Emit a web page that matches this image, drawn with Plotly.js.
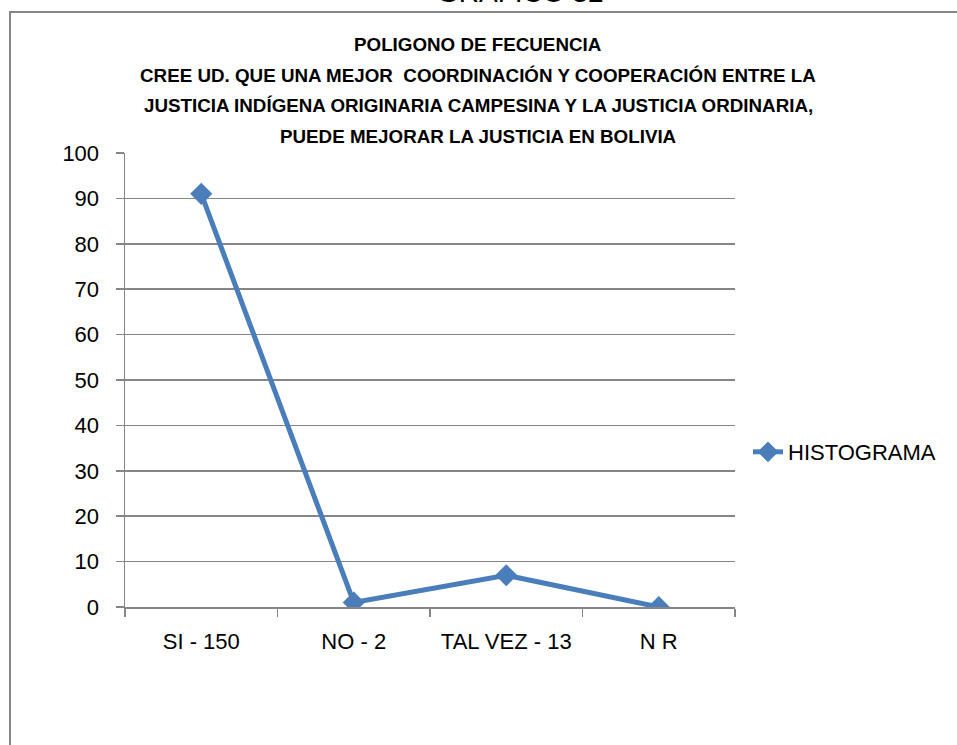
<!DOCTYPE html>
<html>
<head>
<meta charset="utf-8">
<script src="https://cdn.plot.ly/plotly-3.0.1.min.js"></script>
<style>html,body{margin:0;padding:0;background:#fff;}#chart{width:957px;height:745px;}</style>
</head>
<body>
<div id="chart"></div>
<script>
const categories = ["SI - 150", "NO - 2", "TAL VEZ - 13", "N R"];
const values = [91, 1, 7, 0];
const seriesName = "HISTOGRAMA";
const yTicks = [0, 10, 20, 30, 40, 50, 60, 70, 80, 90, 100];
const titleLines = [
  "POLIGONO DE FECUENCIA",
  "CREE UD. QUE UNA MEJOR  COORDINACIÓN Y COOPERACIÓN ENTRE LA",
  "JUSTICIA INDÍGENA ORIGINARIA CAMPESINA Y LA JUSTICIA ORDINARIA,",
  "PUEDE MEJORAR LA JUSTICIA EN BOLIVIA"
];
const topTitle = "GRAFICO 32";

const W = 957, H = 745;
const L = 125, R = 222, T = 153, B = 138;
const pw = W - L - R, ph = H - T - B;
function px(x) { return (x - L) / pw; }
function py(y) { return (H - B - y) / ph; }

const FONT = "Liberation Sans, Arial, sans-serif";
const lineColor = "#4a7ebb";
const grid = "#868686";

const titleY = [45, 75, 106, 137];
const annotations = titleLines.map((t, i) => ({
  text: "<b>" + t + "</b>", xref: "paper", yref: "paper",
  x: px(478), y: py(titleY[i]), xanchor: "center", yanchor: "middle",
  showarrow: false, font: {family: FONT, size: 18.8, color: "#000"}
}));
annotations.push({
  text: topTitle, xref: "paper", yref: "paper",
  x: px(520), y: py(-8), xanchor: "center", yanchor: "middle",
  showarrow: false, font: {family: FONT, size: 28, color: "#000"}
});

const trace = {
  x: categories, y: values, name: seriesName, type: "scatter", mode: "lines+markers",
  line: {color: lineColor, width: 5},
  marker: {symbol: "diamond", size: 17, color: lineColor},
  showlegend: true
};

const layout = {
  width: W, height: H,
  margin: {l: L, r: R, t: T, b: B},
  paper_bgcolor: "#fff", plot_bgcolor: "#fff",
  font: {family: FONT, size: 22, color: "#000"},
  showlegend: true,
  legend: {x: px(748), y: py(452), xanchor: "left", yanchor: "middle",
           font: {family: FONT, size: 22, color: "#000"}, bgcolor: "rgba(0,0,0,0)"},
  xaxis: {type: "category", range: [-0.5, 3.5], showgrid: false, showline: true,
          linecolor: grid, linewidth: 1.5, ticks: "outside", ticklen: 8, tickcolor: grid,
          tickwidth: 1.5, tickson: "boundaries", zeroline: false, fixedrange: true,
          ticklabelstandoff: 14,
          tickfont: {family: FONT, size: 22, color: "#000"}},
  yaxis: {range: [0, 100], tickvals: yTicks, showgrid: true, gridcolor: grid, gridwidth: 1.5,
          showline: true, linecolor: grid, linewidth: 1.5, ticks: "outside", ticklen: 8,
          tickcolor: grid, tickwidth: 1.5, zeroline: false, fixedrange: true,
          ticklabelstandoff: 12,
          tickfont: {family: FONT, size: 22, color: "#000"}},
  annotations: annotations,
  shapes: [{type: "rect", xref: "paper", yref: "paper",
            x0: px(10), x1: px(1100), y0: py(900), y1: py(12),
            line: {color: grid, width: 2}, fillcolor: "rgba(0,0,0,0)", layer: "below"}]
};

Plotly.newPlot("chart", [trace], layout, {displayModeBar: false, staticPlot: true});
</script>
</body>
</html>
